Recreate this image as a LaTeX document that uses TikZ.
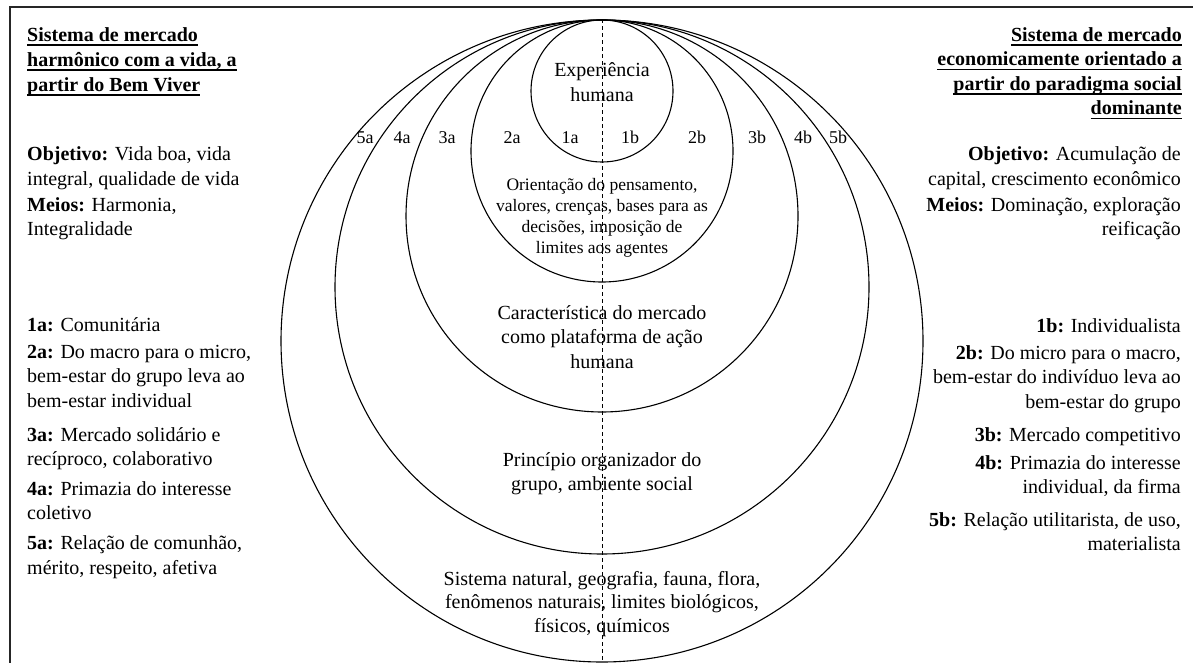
\documentclass[tikz,border=0pt]{standalone}
\usepackage{fontspec}
\setmainfont{Liberation Serif}
% underline with a heavy rule drawn below the baseline
\newcommand\headul[1]{\setbox0\hbox{#1}\rlap{\rule[-4.5pt]{\wd0}{1.7pt}}\box0}
\tikzset{
  body/.style={font=\fontsize{20}{24.5}\selectfont, inner sep=0pt},
  lcol/.style={body, align=left, anchor=base west},
  rcol/.style={body, align=right, anchor=base east},
  ctext/.style={body, align=center, anchor=base},
  smalltext/.style={font=\fontsize{17.5}{21}\selectfont},
  tag/.style={font=\fontsize{18}{20}\selectfont, inner sep=0pt, anchor=base},
  ring/.style={circle, draw, line width=1.1pt, inner sep=0pt},
  frame/.style={line width=1.5pt, draw=black!85},
}
\begin{document}
\begin{tikzpicture}[x=1pt, y=-1pt]
\useasboundingbox (0,0) rectangle (1193,663);

% outer frame (top and left edges)
\coordinate (frTR) at (1193,7);
\coordinate (frTL) at (10,7);
\coordinate (frBL) at (10,663);
\draw[frame] (frTR) -- (frTL) -- (frBL);

% nested rings, all touching at the top
\node[ring, minimum size=642pt] (ring5) at (602,341) {};
\node[ring, minimum size=534pt] (ring4) at (602,287) {};
\node[ring, minimum size=392pt] (ring3) at (602,216) {};
\node[ring, minimum size=262pt] (ring2) at (602,151) {};
\node[ring, minimum size=142pt] (ring1) at (602,91) {};

% dashed dividing axis
\coordinate (axisEnd) at (602,663);
\draw[dashed, dash pattern=on 4pt off 3pt, line width=0.9pt] (ring1.north) -- (axisEnd);

% ring texts (anchored at the baseline of their last line)
\node[ctext] (t1) at (602,101.5) {Experiência\\humana};
\node[ctext, smalltext] (t2) at (602,253) {Orientação do pensamento,\\valores, crenças, bases para as\\decisões, imposição de\\limites aos agentes};
\node[ctext] (t3) at (602,368) {Característica do mercado\\como plataforma de ação\\humana};
\node[ctext] (t4) at (602,490.5) {Princípio organizador do\\grupo, ambiente social};
\node[ctext, font=\fontsize{20}{23.5}\selectfont] (t5) at (602,632) {Sistema natural, geografia, fauna, flora,\\fenômenos naturais, limites biológicos,\\físicos, químicos};

% ring tags
\node[tag] (l5a) at (365,144) {5a};
\node[tag] (l4a) at (402,144) {4a};
\node[tag] (l3a) at (447,144) {3a};
\node[tag] (l2a) at (512,144) {2a};
\node[tag] (l1a) at (570,144) {1a};
\node[tag] (l1b) at (630,144) {1b};
\node[tag] (l2b) at (697,144) {2b};
\node[tag] (l3b) at (757,144) {3b};
\node[tag] (l4b) at (803,144) {4b};
\node[tag] (l5b) at (838,144) {5b};

% left column
\node[lcol, font=\fontsize{20}{25}\selectfont] (lh) at (27,91.5) {\headul{\bfseries Sistema de mercado}\\\headul{\bfseries harmônico com a vida, a}\\\headul{\bfseries partir do Bem Viver}};
\node[lcol] (lobj) at (27,185.5) {\textbf{Objetivo:} Vida boa, vida\\integral, qualidade de vida};
\node[lcol] (lmei) at (27,235.5) {\textbf{Meios:} Harmonia,\\Integralidade};
\node[lcol] (la1) at (27,331) {\textbf{1a:} Comunitária};
\node[lcol] (la2) at (27,407) {\textbf{2a:} Do macro para o micro,\\bem-estar do grupo leva ao\\bem-estar individual};
\node[lcol] (la3) at (27,465.5) {\textbf{3a:} Mercado solidário e\\recíproco, colaborativo};
\node[lcol] (la4) at (27,519.5) {\textbf{4a:} Primazia do interesse\\coletivo};
\node[lcol] (la5) at (27,574) {\textbf{5a:} Relação de comunhão,\\mérito, respeito, afetiva};

% right column
\node[rcol] (rh) at (1182,115) {\headul{\bfseries Sistema de mercado}\\\headul{\bfseries economicamente orientado a}\\\headul{\bfseries partir do paradigma social}\\\headul{\bfseries dominante}};
\node[rcol] (robj) at (1181,185.5) {\textbf{Objetivo:} Acumulação de\\capital, crescimento econômico};
\node[rcol] (rmei) at (1181,235.5) {\textbf{Meios:} Dominação, exploração\\reificação};
\node[rcol] (rb1) at (1181,332) {\textbf{1b:} Individualista};
\node[rcol] (rb2) at (1181,408) {\textbf{2b:} Do micro para o macro,\\bem-estar do indivíduo leva ao\\bem-estar do grupo};
\node[rcol] (rb3) at (1181,441) {\textbf{3b:} Mercado competitivo};
\node[rcol] (rb4) at (1181,493.5) {\textbf{4b:} Primazia do interesse\\individual, da firma};
\node[rcol] (rb5) at (1181,550.5) {\textbf{5b:} Relação utilitarista, de uso,\\materialista};
\end{tikzpicture}
\end{document}
